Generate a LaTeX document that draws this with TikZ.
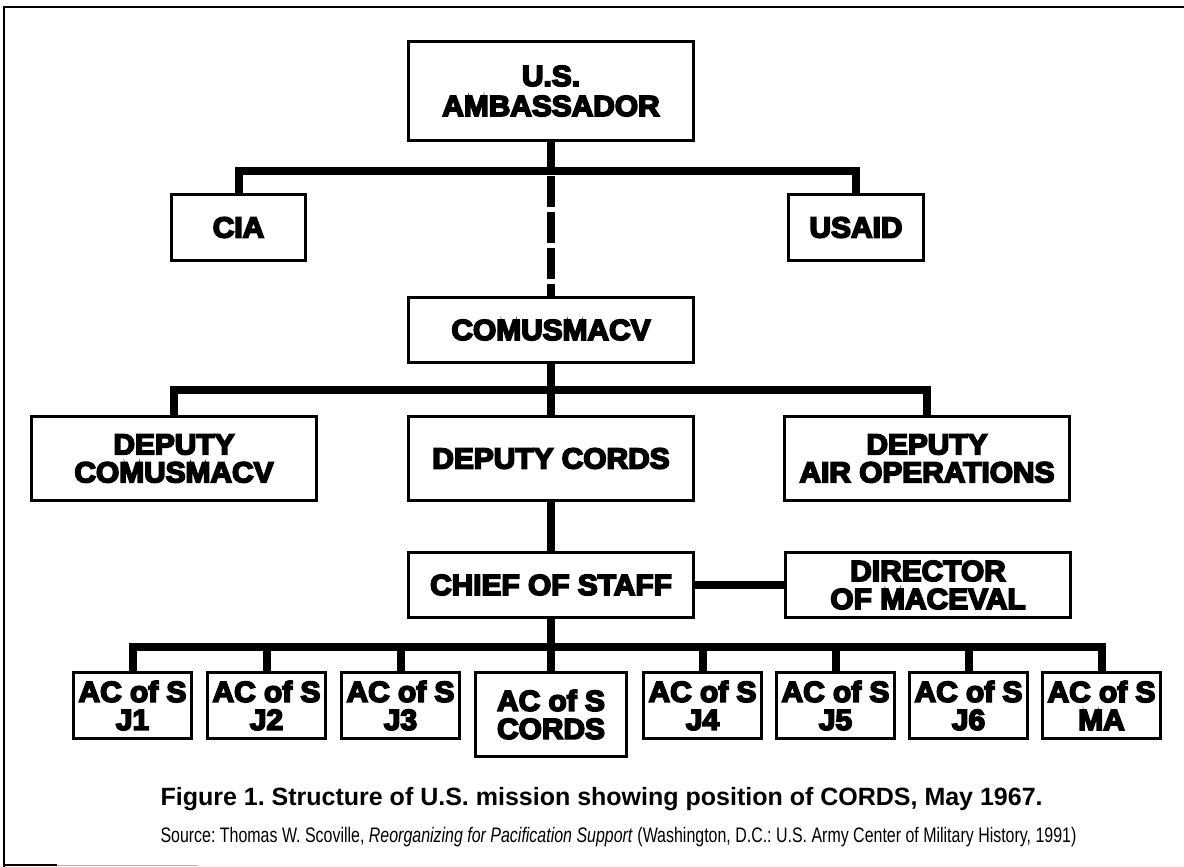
\documentclass[tikz,border=0pt]{standalone}
\usepackage{fontspec}
\usepackage{tikz}
\usetikzlibrary{positioning}

\newfontfamily\boxfont[UprightFont={* Bold}, FakeStretch=1.03, FakeBold=6]{Liberation Sans}
\newfontfamily\capfont{Liberation Sans}
\newfontfamily\srcfont[FakeStretch=0.76]{Liberation Sans}
\frenchspacing

\begin{document}
\begin{tikzpicture}[x=1pt, y=1pt, node distance=12pt,
	unit/.style={draw, rectangle, line width=3pt, inner sep=0pt, align=center, font={\boxfont\fontsize{29}{28}\selectfont}},
	wide/.style={unit, minimum width=285pt, minimum height=65pt},
	widetall/.style={wide, minimum height=84pt},
	small/.style={unit, minimum width=118pt, minimum height=66pt},
	bar/.style={line width=8pt}]
	
	\useasboundingbox (0,0) rectangle (1184,-867);
	% page frame
	\draw[line width=2pt] (4,-867) -- (4,-7) -- (1184,-7);
	\draw[line width=2pt] (4,-865) -- (57,-865);
	\draw[line width=1pt, black!30] (57,-865) -- (198,-865);
	
	% Define nodes
	\node [wide, minimum height=99pt] (amb) at (551,-91) {U.S.\\[2pt]AMBASSADOR};
	\node [unit, minimum width=134pt, minimum height=66pt, below left=51pt and 100pt of amb] (cia) {CIA};
	\node [unit, minimum width=135pt, minimum height=66pt, below right=51pt and 92pt of amb] (usaid) {USAID};
	\node [wide, below=154pt of amb] (comus) {COMUSMACV};
	\node [widetall, below=51pt of comus] (depcords) {DEPUTY CORDS};
	\node [widetall, left=89pt of depcords] (depcom) {DEPUTY\\COMUSMACV};
	\node [widetall, right=88pt of depcords] (depair) {DEPUTY\\AIR OPERATIONS};
	\node [wide, below=49pt of depcords] (chief) {CHIEF OF STAFF};
	\node [wide, right=89pt of chief] (director) {DIRECTOR\\OF MACEVAL};
	\node [small, minimum width=151pt, minimum height=84pt, below=52pt of chief] (cords) {AC of S\\CORDS};
	\node [small, left=13pt of cords.north west, anchor=north east] (j3) {AC of S\\J3};
	\node [small, left=13pt of j3] (j2) {AC of S\\J2};
	\node [small, left=13pt of j2] (j1) {AC of S\\J1};
	\node [small, right=14pt of cords.north east, anchor=north west] (j4) {AC of S\\J4};
	\node [small, right=of j4] (j5) {AC of S\\J5};
	\node [small, right=of j5] (j6) {AC of S\\J6};
	\node [small, right=of j6] (ma) {AC of S\\MA};
	
	% caption
	\node [anchor=base west, font={\capfont\bfseries\fontsize{25}{28}\selectfont}] (caption) at (157,-805) {Figure 1. Structure of U.S. mission showing position of CORDS, May 1967.};
	\node [anchor=base west, font={\srcfont\fontsize{21}{24}\selectfont}] (source) at (157,-842) {Source: Thomas W. Scoville, \textit{Reorganizing for Pacification Support} (Washington, D.C.: U.S. Army Center of Military History, 1991)};
	
	% Lines between blocks
	\coordinate (tee1) at ([yshift=-29pt]amb.south);
	\coordinate (tee2) at ([yshift=-26pt]comus.south);
	\coordinate (tee3) at ([yshift=-28pt]chief.south);
	\draw[bar] (amb) -- (tee1);
	\draw[bar] (cia.north) |- (tee1) -| (usaid.north);
	\draw[bar, dash pattern=on 31pt off 5pt, dash phase=31pt] (tee1) -- (comus);
	\draw[bar] (comus) -- (depcords);
	\draw[bar] (depcom.north) |- (tee2) -| (depair.north);
	\draw[bar] (depcords) -- (chief);
	\draw[bar] (chief) -- (director);
	\draw[bar] (chief) -- (cords);
	\draw[bar] (j1.north) |- (tee3) -| (ma.north);
	\foreach \n in {j2,j3,j4,j5,j6}
		\draw[bar] (\n.north) -- (\n.north |- tee3);
\end{tikzpicture}
\end{document}
